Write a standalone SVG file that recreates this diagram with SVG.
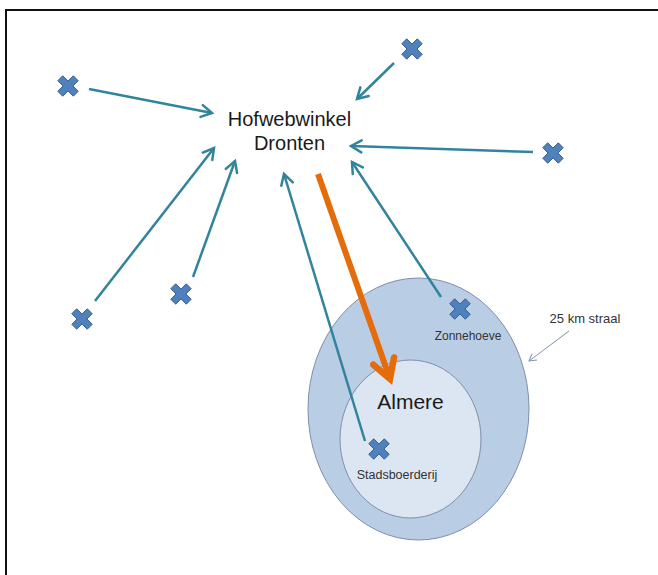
<svg xmlns="http://www.w3.org/2000/svg" width="658" height="575" viewBox="0 0 658 575">
<style>
.lbl{font-family:"Liberation Sans",Arial,sans-serif;fill:#1a1a1a;text-anchor:middle}
.small{font-family:"Liberation Sans",Arial,sans-serif;fill:#333;text-anchor:middle}
.teal{stroke:#31849b;stroke-width:2.5;fill:none;marker-end:url(#ah)}
.x{fill:#4f81bd;stroke:#385d8a;stroke-width:1}
</style>
<defs>
<marker id="ah" markerUnits="userSpaceOnUse" markerWidth="16" markerHeight="16" refX="11" refY="7" orient="auto" overflow="visible">
<path d="M0.5,1 L11,7 L0.5,13" fill="none" stroke="#31849b" stroke-width="2.5" stroke-linecap="round"/>
</marker>
<marker id="oh" markerUnits="userSpaceOnUse" markerWidth="30" markerHeight="30" refX="21" refY="12" orient="auto" overflow="visible">
<path d="M2,1 L21,12 L2,23" fill="none" stroke="#e46c0a" stroke-width="6.5" stroke-linecap="round" stroke-linejoin="miter"/>
</marker>
<marker id="gh" markerUnits="userSpaceOnUse" markerWidth="10" markerHeight="10" refX="7" refY="4" orient="auto" overflow="visible">
<path d="M0,0 L7,4 L0,8" fill="none" stroke="#7f93ad" stroke-width="1"/>
</marker>
<path id="cross" d="M-10.2,-5.3 L-5.3,-10.2 L0,-4.9 L5.3,-10.2 L10.2,-5.3 L4.9,0 L10.2,5.3 L5.3,10.2 L0,4.9 L-5.3,10.2 L-10.2,5.3 L-4.9,0 Z"/>
</defs>
<rect width="658" height="575" fill="#fff"/>
<path d="M6,575 L6,10 L658,10" fill="none" stroke="#111" stroke-width="2"/>
<g id="almere-region">
<ellipse cx="418.5" cy="409" rx="110.5" ry="131" fill="#b9cde5" stroke="#7f8fa9" stroke-width="1"/>
<ellipse cx="410.5" cy="439" rx="70.5" ry="79" fill="#dce6f2" stroke="#7f8fa9" stroke-width="1"/>
<text class="lbl" x="410.5" y="409" font-size="21">Almere</text>
</g>
<g id="connectors">
<line class="teal" x1="89" y1="89" x2="212" y2="113"/>
<line class="teal" x1="394" y1="63" x2="357" y2="99"/>
<line class="teal" x1="533" y1="152" x2="351" y2="146"/>
<line class="teal" x1="95" y1="301" x2="214" y2="148"/>
<line class="teal" x1="193" y1="277" x2="235" y2="161"/>
<line class="teal" x1="365" y1="441" x2="284" y2="174"/>
<line class="teal" x1="441" y1="297" x2="352" y2="162"/>
<line x1="318" y1="174" x2="390" y2="379" stroke="#e46c0a" stroke-width="6" marker-end="url(#oh)"/>
<line x1="569" y1="331" x2="529" y2="361" stroke="#7f93ad" stroke-width="1" marker-end="url(#gh)"/>
</g>
<g id="hofwebwinkel">
<text class="lbl" x="289.5" y="126" font-size="20">Hofwebwinkel</text>
<text class="lbl" x="289.5" y="150" font-size="20">Dronten</text>
</g>
<g id="x1"><use href="#cross" class="x" x="68" y="86"/></g>
<g id="x2"><use href="#cross" class="x" x="412" y="49"/></g>
<g id="x3"><use href="#cross" class="x" x="553" y="153"/></g>
<g id="x4"><use href="#cross" class="x" x="82" y="319"/></g>
<g id="x5"><use href="#cross" class="x" x="181" y="294"/></g>
<g id="zonnehoeve"><use href="#cross" class="x" x="460" y="309"/><text class="small" x="468" y="340" font-size="12">Zonnehoeve</text></g>
<g id="stadsboerderij"><use href="#cross" class="x" x="379" y="449"/><text class="small" x="397" y="479" font-size="12.5">Stadsboerderij</text></g>
<g id="straal-label"><text class="small" x="585" y="323" font-size="13" fill="#404040">25 km straal</text></g>
</svg>
